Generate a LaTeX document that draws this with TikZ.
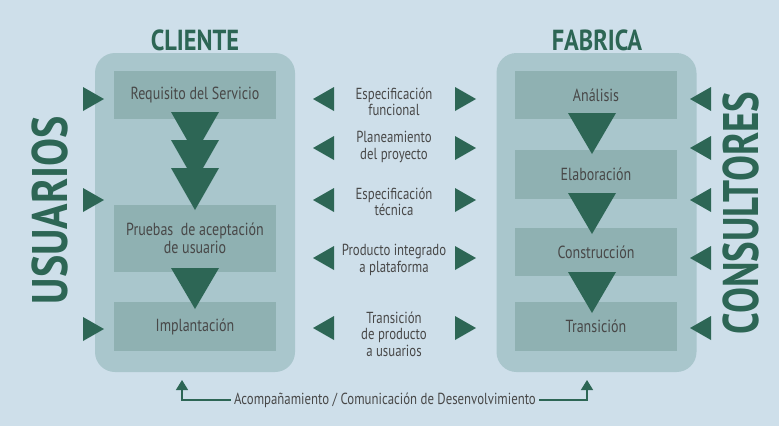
\documentclass[tikz,border=0pt]{standalone}
\usepackage{fontspec}
\setmainfont{PT Sans}
\newfontfamily\cond[FakeStretch=0.8]{PT Sans}
\newfontfamily\condt[FakeStretch=0.84]{PT Sans}
\usetikzlibrary{arrows.meta}
\definecolor{bgc}{HTML}{CEDFEA}
\definecolor{cont}{HTML}{A9C6CC}
\definecolor{inbox}{HTML}{8FB1B2}
\definecolor{dg}{HTML}{2D6655}
\definecolor{txt}{HTML}{484848}
\newcommand\dtri[3]{\fill[tri] ({#1-24},{#2}) -- ({#1+24},{#2}) -- ({#1},{#2+#3}) -- cycle;}
\newcommand\rtri[2]{\fill[tri] ({#1},{#2-12}) -- ({#1+21},{#2}) -- ({#1},{#2+12}) -- cycle;}
\newcommand\ltri[2]{\fill[tri] ({#1+21},{#2-12}) -- ({#1},{#2}) -- ({#1+21},{#2+12}) -- cycle;}
\begin{document}
\begin{tikzpicture}[x=1pt,y=-1pt,
  container/.style={fill=cont, rounded corners=20pt, minimum width=200pt, minimum height=319pt, inner sep=0pt},
  stepbox/.style={fill=inbox, minimum width=162pt, inner sep=0pt, font=\cond\fontsize{17.5}{18}\selectfont, text=txt, align=center},
  lbl/.style={font=\cond\fontsize{16}{16.5}\selectfont, text=txt, align=center},
  title/.style={font=\condt\bfseries\fontsize{29}{30}\selectfont, text=dg},
  big/.style={font=\condt\bfseries\fontsize{50}{50}\selectfont, text=dg, rotate=90},
  tri/.style={fill=dg},
  link/.style={draw=dg, line width=1.3pt}]
\fill[bgc] (0,0) rectangle (779,426);
\useasboundingbox (0,0) rectangle (779,426);

% containers
\node[container] (cli) at (195,212.5) {};
\node[container] (fab) at (596.5,212.5) {};

% titles
\node[title] (tcli) at (195,40) {CLIENTE};
\node[title] (tfab) at (597,40) {FABRICA};
\node[big] (usu) at (50,210) {USUARIOS};
\node[big] (cons) at (741,213) {\scalebox{0.925}[1]{CONSULTORES}};

% client steps
\node[stepbox, minimum height=48pt] (c1) at (195,95) {Requisito del Servicio};
\node[stepbox, minimum height=67pt] (c2) at (195,238.5) {Pruebas\ \ de aceptación\\de usuario};
\node[stepbox, minimum height=49pt] (c3) at (195,326.5) {Implantación};

% fabrica steps
\node[stepbox, minimum height=48pt] (f1) at (596,95) {Análisis};
\node[stepbox, minimum height=49pt] (f2) at (596,174.5) {Elaboración};
\node[stepbox, minimum height=48pt] (f3) at (596,252) {Construcción};
\node[stepbox, minimum height=49pt] (f4) at (596,326.5) {Transición};

% down triangles
\dtri{195}{112}{42}
\dtri{195}{140}{42}
\dtri{195}{168}{42}
\dtri{195}{268}{41}
\dtri{592}{113}{41}
\dtri{592}{193}{41}
\dtri{592}{272}{41}

% middle labels
\node[lbl] (m1) at (394,102) {Especificación\\funcional};
\node[lbl] (m2) at (394,147) {Planeamiento\\del proyecto};
\node[lbl] (m3) at (394,202) {Especificación\\técnica};
\node[lbl] (m4) at (394,260) {Producto integrado\\a plataforma};
\node[lbl] (m5) at (394,334) {Transición\\de producto\\a usuarios};

% side arrows
\rtri{83}{99}\rtri{83}{200}\rtri{83}{329}
\ltri{313}{99}\ltri{313}{148}\ltri{313}{200}\ltri{313}{258}\ltri{313}{328}
\rtri{455}{99}\rtri{455}{148}\rtri{455}{200}\rtri{455}{258}\rtri{455}{328}
\ltri{690}{99}\ltri{690}{148}\ltri{690}{200}\ltri{690}{258}\ltri{690}{328}

% bottom
\node[lbl] (acomp) at (385,400) {Acompañamiento / Comunicación de Desenvolvimiento};
\coordinate (la) at (182,380);
\coordinate (ra) at (587,380);
\draw[link, -{Triangle[width=12pt,length=10pt]}] (acomp.west) -| (la);
\draw[link, -{Triangle[width=12pt,length=10pt]}] (acomp.east) -| (ra);
\end{tikzpicture}
\end{document}
